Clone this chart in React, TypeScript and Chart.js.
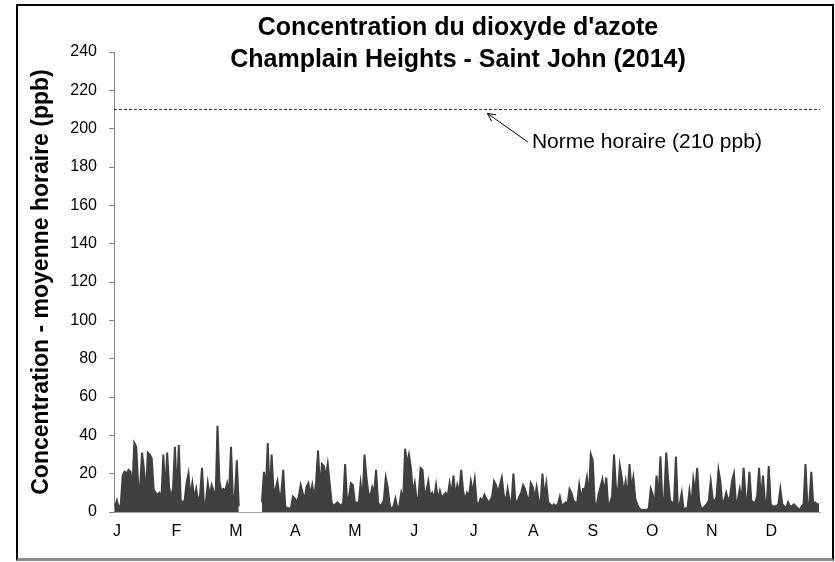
import { useEffect, useRef } from "react";
import { Chart, registerables } from "chart.js";

Chart.register(...registerables);

// ---- Data (daily maximum of hourly NO2, ppb) ----
const monthLabels = ["J", "F", "M", "A", "M", "J", "J", "A", "S", "O", "N", "D"];
const janMax = [3, 6, 2, 4, 19, 21, 20, 22, 21, 12, 36, 34, 14, 13, 31, 22, 9, 31, 30, 28, 12, 10, 9, 10, 6, 30, 10, 31, 13, 8, 12];
const febMax = [34, 8, 35, 6, 5, 6, 15, 20, 8, 15, 7, 12, 5, 9, 23, 4, 5, 15, 8, 14, 11, 6, 45, 16, 11, 12, 11, 15];
const marMax = [10, 34, 6, 9, 27, 3, null, null, null, null, null, null, null, null, null, null, null, 5, 21, 12, 36, 8, 30, 10, 12, 16, 8, 10, 22, 3, 2];
const aprMax = [2, 2, 8, 7, 5, 8, 14, 10, 6, 13, 15, 9, 14, 7, 16, 32, 12, 25, 24, 18, 25, 15, 5, 3, 4, 5, 4, 3, 5, 25];
const mayMax = [5, 8, 15, 14, 5, 5, 4, 15, 6, 30, 18, 10, 8, 13, 10, 22, 5, 3, 4, 6, 18, 13, 4, 1, 3, 7, 2, 3, 10, 6, 33];
const junMax = [25, 30, 23, 10, 15, 6, 8, 23, 22, 9, 11, 16, 8, 10, 7, 14, 6, 11, 7, 9, 10, 8, 15, 9, 19, 8, 14, 10, 22, 11];
const julMax = [6, 10, 8, 16, 10, 17, 5, 4, 7, 6, 9, 7, 5, 6, 8, 16, 14, 10, 14, 18, 9, 5, 12, 6, 5, 20, 6, 5, 8, 10, 14];
const augMax = [12, 8, 5, 15, 13, 7, 13, 6, 4, 20, 8, 15, 5, 4, 3, 4, 3, 4, 8, 3, 4, 5, 4, 12, 10, 6, 5, 5, 14, 7, 12];
const sepMax = [12, 18, 8, 30, 27, 5, 3, 9, 13, 17, 10, 18, 3, 5, 8, 30, 13, 9, 24, 18, 10, 16, 7, 25, 12, 18, 7, 4, 2, 1];
const octMax = [1, 1, 1, 2, 12, 9, 3, 19, 6, 29, 5, 8, 31, 17, 6, 5, 4, 29, 3, 4, 10, 1, 2, 2, 11, 3, 17, 10, 23, 6, 2];
const novMax = [2, 3, 4, 6, 16, 7, 5, 8, 22, 16, 4, 6, 10, 6, 8, 16, 20, 5, 6, 12, 6, 23, 8, 6, 21, 6, 5, 5, 8, 23];
const decMax = [5, 19, 6, 4, 24, 4, 3, 3, 3, 4, 12, 4, 3, 2, 5, 3, 3, 4, 3, 2, 1, 3, 4, 25, 3, 5, 21, 4, 5, 4, 4];

const limitValue = 210;
const limitLabel = "Norme horaire (210 ppb)";
const titleLines = ["Concentration du dioxyde d'azote", "Champlain Heights - Saint John (2014)"];
const yAxisTitle = "Concentration - moyenne horaire (ppb)";

const FONT = '"Liberation Sans", Arial, sans-serif';
const DAYS = 365;
const LABEL_STEP = 30.75;
const LABEL_OFFSET = 1.5;
const ARROW_TIP = { x: 193, y: 208 };
const ARROW_TAIL = { x: 214, y: 193 };

export default function App() {
  const ref = useRef<HTMLCanvasElement>(null);

  useEffect(() => {
    const canvas = ref.current;
    if (!canvas) return;
    const daily = [
      ...janMax, ...febMax, ...marMax, ...aprMax, ...mayMax, ...junMax,
      ...julMax, ...augMax, ...sepMax, ...octMax, ...novMax, ...decMax,
    ];
    const points = daily.map((v, i) => ({ x: i + 0.5, y: v }));

    const notes = {
      id: "notes",
      afterDatasetsDraw(chart: any) {
        const { ctx, scales } = chart;
        const xs = scales.x;
        const ys = scales.y;
        ctx.save();
        ctx.fillStyle = "#000";
        ctx.font = `bold 25px ${FONT}`;
        ctx.textAlign = "center";
        ctx.textBaseline = "middle";
        ctx.fillText(titleLines[0], 458, 28);
        ctx.fillText(titleLines[1], 458, 60);

        const tx = xs.getPixelForValue(ARROW_TIP.x);
        const ty = ys.getPixelForValue(ARROW_TIP.y);
        const sx = xs.getPixelForValue(ARROW_TAIL.x);
        const sy = ys.getPixelForValue(ARROW_TAIL.y);
        ctx.strokeStyle = "#000";
        ctx.lineWidth = 1;
        ctx.beginPath();
        ctx.moveTo(sx, sy);
        ctx.lineTo(tx, ty);
        const ang = Math.atan2(ty - sy, tx - sx);
        const len = 9;
        ctx.moveTo(tx, ty);
        ctx.lineTo(tx - len * Math.cos(ang - 0.45), ty - len * Math.sin(ang - 0.45));
        ctx.moveTo(tx, ty);
        ctx.lineTo(tx - len * Math.cos(ang + 0.45), ty - len * Math.sin(ang + 0.45));
        ctx.stroke();

        ctx.font = `21px ${FONT}`;
        ctx.textAlign = "left";
        ctx.fillText(limitLabel, sx + 4, sy);
        ctx.restore();
      },
    };

    const chart = new Chart(canvas, {
      type: "line",
      data: {
        datasets: [
          {
            data: points as any,
            borderColor: "#404040",
            backgroundColor: "#404040",
            borderWidth: 2,
            pointRadius: 0,
            fill: "origin",
            spanGaps: false,
            tension: 0,
          },
          {
            data: [
              { x: 0, y: limitValue },
              { x: DAYS, y: limitValue },
            ],
            borderColor: "#404040",
            borderWidth: 1,
            borderDash: [3, 2],
            pointRadius: 0,
            fill: false,
          },
        ],
      },
      options: {
        responsive: false,
        animation: false,
        devicePixelRatio: 1,
        layout: { padding: { top: 52, right: 15, left: 0, bottom: 0 } },
        plugins: {
          legend: { display: false },
          tooltip: { enabled: false },
          title: { display: false },
        },
        scales: {
          x: {
            type: "linear",
            min: 0,
            max: DAYS,
            afterBuildTicks: (s: any) => {
              s.ticks = monthLabels.map((_, i) => ({ value: LABEL_OFFSET + i * LABEL_STEP }));
            },
            afterFit: (s: any) => {
              s.height = 50;
            },
            ticks: {
              autoSkip: false,
              maxRotation: 0,
              padding: 10,
              color: "#000",
              font: { family: FONT, size: 16 },
              callback: (_v: any, i: number) => monthLabels[i],
            },
            grid: { display: false, drawTicks: false },
            border: { display: true, color: "#a6a6a6", width: 1 },
          },
          y: {
            min: 0,
            max: 240,
            afterFit: (s: any) => {
              s.width = 114;
            },
            ticks: {
              stepSize: 10,
              padding: 12,
              color: "#000",
              font: { family: FONT, size: 16 },
              callback: (v: any) => (Number(v) % 20 === 0 ? String(v) : ""),
            },
            grid: { drawOnChartArea: false, drawTicks: true, tickLength: 5, color: "#868686" },
            border: { display: true, color: "#868686", width: 1 },
            title: {
              display: true,
              text: yAxisTitle,
              color: "#000",
              font: { family: FONT, size: 23, weight: "bold" },
              padding: { top: 28, bottom: 0 },
            },
          },
        },
      },
      plugins: [notes],
    });
    return () => chart.destroy();
  }, []);

  return (
    <div style={{ position: "absolute", left: 0, top: 0, width: 835, height: 562, background: "#fff" }}>
      <div
        style={{
          position: "absolute",
          left: 16,
          top: 4,
          width: 818,
          height: 557,
          boxSizing: "border-box",
          borderTop: "2px solid #000",
          borderLeft: "2px solid #000",
          borderRight: "2px solid #000",
          borderBottom: "3px solid #8c8c8c",
        }}
      />
      <canvas
        ref={ref}
        width={835}
        height={562}
        style={{ position: "absolute", left: 0, top: 0, width: 835, height: 562 }}
      />
    </div>
  );
}
